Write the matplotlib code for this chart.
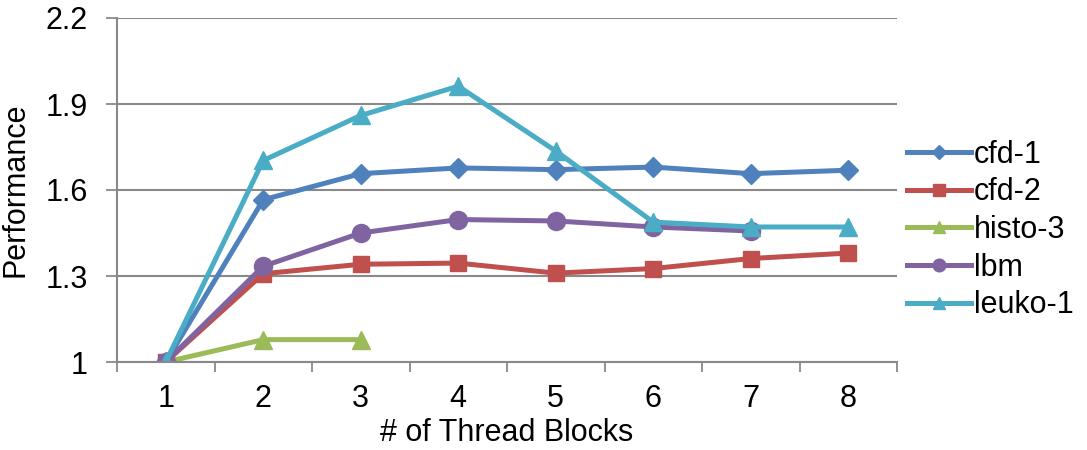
import numpy as np
import matplotlib
matplotlib.use('Agg')
import matplotlib.pyplot as plt

plt.rcParams['font.family'] = ['Liberation Sans', 'DejaVu Sans']

# data
blocks = [1, 2, 3, 4, 5, 6, 7, 8]
cfd_1 = [1.0, 1.566, 1.657, 1.677, 1.671, 1.680, 1.657, 1.669]
cfd_2 = [1.0, 1.308, 1.341, 1.345, 1.310, 1.326, 1.361, 1.380]
histo_3 = [1.0, 1.078, 1.078]
lbm = [1.0, 1.334, 1.450, 1.497, 1.492, 1.471, 1.457]
leuko_1 = [1.0, 1.703, 1.860, 1.962, 1.736, 1.488, 1.471, 1.471]

names = ['cfd-1', 'cfd-2', 'histo-3', 'lbm', 'leuko-1']
series = [cfd_1, cfd_2, histo_3, lbm, leuko_1]
colors = ['#4F81BD', '#C0504D', '#9BBB59', '#8064A2', '#4BACC6']
markers = ['D', 's', '^', 'o', '^']
msizes = [10, 12, 13, 13, 13]

y_ticks = [1, 1.3, 1.6, 1.9, 2.2]
y_labels = ['1', '1.3', '1.6', '1.9', '2.2']

W, H = 1087, 450
fig = plt.figure(figsize=(W / 100, H / 100), dpi=100)
ax = fig.add_axes([117 / W, 1 - 362 / H, (897 - 117) / W, (362 - 18) / H])

grid_c = '#898989'
fs = 22

for name, vals, c, m, ms in zip(names, series, colors, markers, msizes):
    ax.plot(blocks[:len(vals)], vals, color=c, marker=m, markersize=ms,
            linewidth=3.6, label=name, solid_joinstyle='miter')

ax.set_xlim(0.5, 8.5)
ax.set_ylim(1, 2.2)

# category axis: tick marks between categories, labels at centres
ax.set_xticks(np.arange(0.5, 9, 1))
ax.set_xticklabels([])
ax.set_xticks(blocks, minor=True)
ax.set_xticklabels([str(b) for b in blocks], minor=True, fontsize=fs)
ax.tick_params(axis='x', which='major', length=7, width=1.3, color=grid_c, direction='out')
ax.tick_params(axis='x', which='minor', length=0, pad=16)

ax.set_yticks(y_ticks)
ax.set_yticklabels(y_labels, fontsize=fs)
ax.tick_params(axis='y', length=8, width=1.3, color=grid_c, direction='out', pad=13)

ax.yaxis.grid(True, color=grid_c, linewidth=1.5)
ax.set_axisbelow(True)
for s in ['top', 'right']:
    ax.spines[s].set_visible(False)
for s in ['left', 'bottom']:
    ax.spines[s].set_color(grid_c)
    ax.spines[s].set_linewidth(1.5)

ax.set_xlabel('# of Thread Blocks', fontsize=fs, labelpad=3)
ax.set_ylabel('Performance', fontsize=fs, labelpad=11)

leg = fig.legend(loc='center left', bbox_to_anchor=(907 / W, 1 - 230 / H), frameon=False,
                 fontsize=fs, handlelength=2.1, handletextpad=0.1, labelspacing=0.25,
                 borderpad=0, borderaxespad=0)
# legend markers are drawn a bit smaller than in the plot
for line, ms in zip(leg.get_lines(), msizes):
    line.set_markersize(ms * 0.7)

fig.savefig('out.png', dpi=100)
